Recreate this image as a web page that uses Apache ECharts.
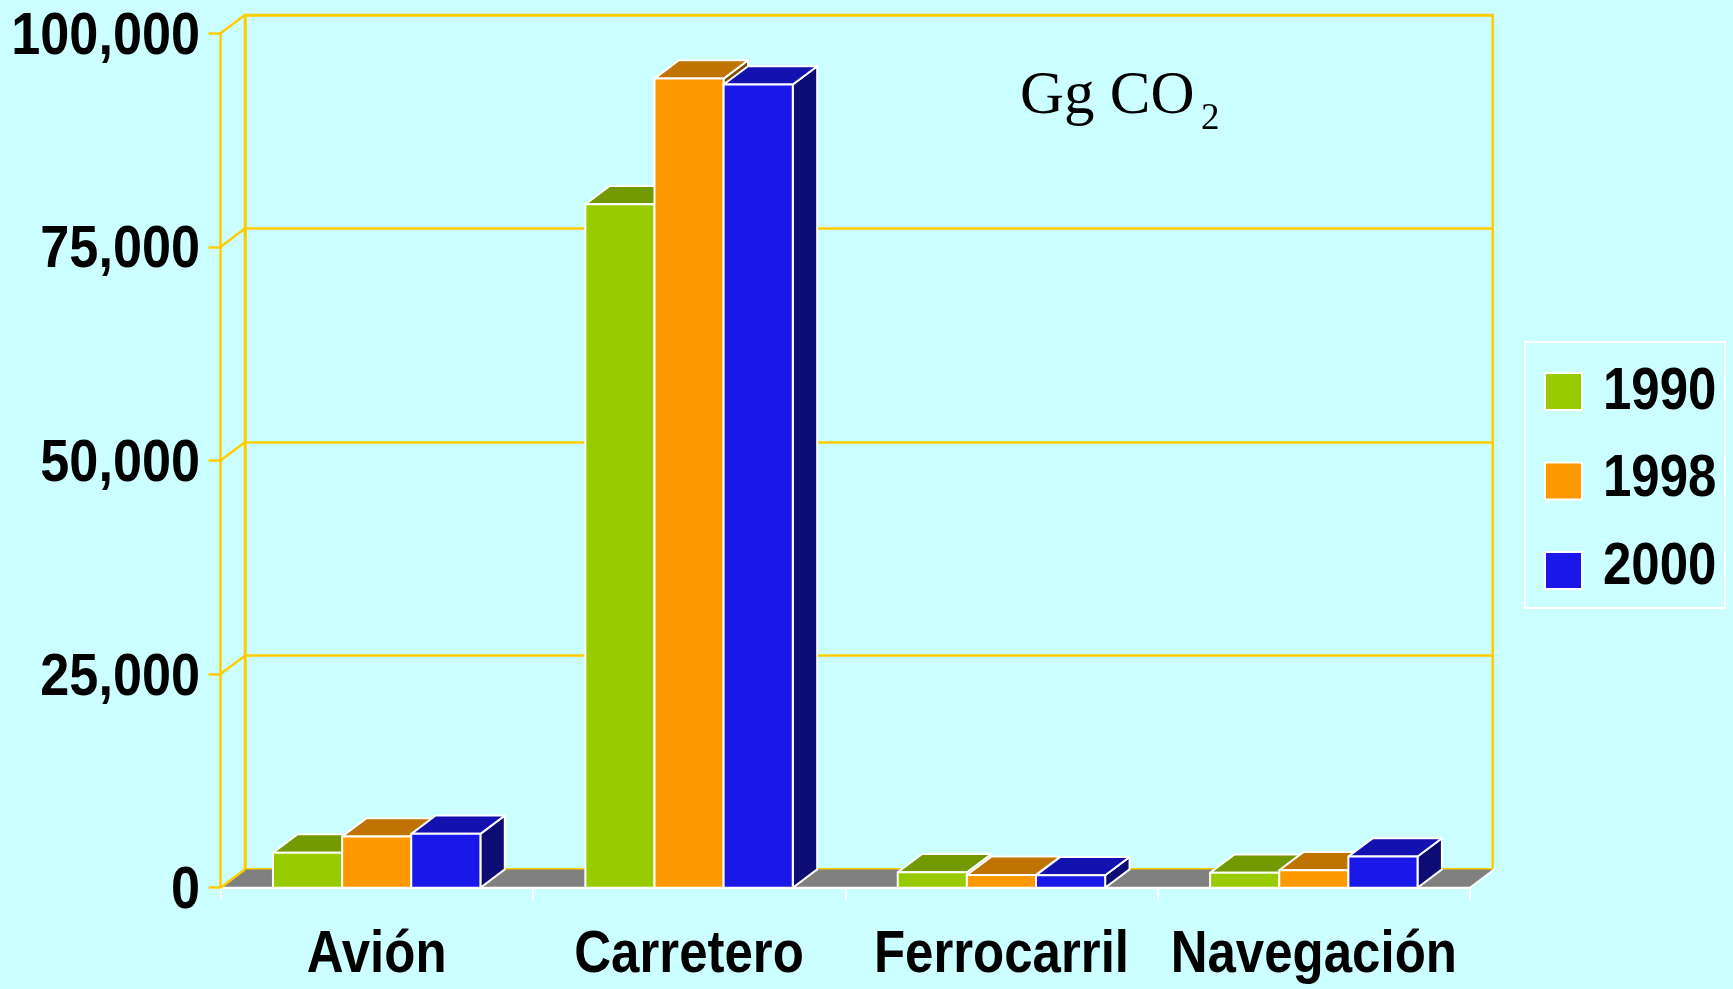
<!DOCTYPE html>
<html>
<head>
<meta charset="utf-8">
<script src="https://cdn.jsdelivr.net/npm/echarts@6/dist/echarts.min.js"></script>
<style>
html,body{margin:0;padding:0;background:#ccffff;}
#chart{width:1733px;height:989px;}
</style>
</head>
<body>
<div id="chart"></div>
<script>
// ---- data ----
const categories = ['Avión', 'Carretero', 'Ferrocarril', 'Navegación'];
const years = ['1990', '1998', '2000'];
const values1990 = [4100, 80000, 1800, 1750];
const values1998 = [6000, 94700, 1500, 2050];
const values2000 = [6300, 94000, 1450, 3650];
const yTicks = [0, 25000, 50000, 75000, 100000];
const yTickLabels = ['0', '25,000', '50,000', '75,000', '100,000'];

// ---- styles ----
const LABEL_FONT = "bold 60px 'Liberation Sans', Arial, sans-serif";
const NARROW_TEXT = 0.85;  // horizontal squeeze to mimic a narrow bold face
const NARROW_NUM = 0.87;
const NARROW_LEG = 0.85;
const YELLOW = '#ffcc00';
const LINE_W = 2.5;
const frontColors = ['#99cc00', '#ff9900', '#1a17e9'];
const topColors = ['#739900', '#bf7300', '#1311af'];
const sideColors = ['#4d6600', '#804c00', '#0d0b74'];
const DX = 24.4, DY = 18.3;
const GAP_RATIO = 0.168;

const seriesValues = [values1990, values1998, values2000];

function makeBarRenderer(s) {
  return function (params, api) {
    const ci = api.value(0);
    const v = api.value(1);
    const band = api.size([1, 0])[0];
    const base = api.coord([ci, 0]);
    const top = api.coord([ci, v]);
    const gap = band * GAP_RATIO;
    const bw = (band - 2 * gap) / 3;
    const x0 = base[0] - band / 2 + gap + s * bw;
    const x1 = x0 + bw;
    const yb = base[1], yt = top[1];
    const stroke = {stroke: '#ffffff', lineWidth: 2, lineJoin: 'round'};
    return {
      type: 'group',
      children: [
        {type: 'polygon', shape: {points: [[x1, yt], [x1 + DX, yt - DY], [x1 + DX, yb - DY], [x1, yb]]},
         style: Object.assign({fill: sideColors[s]}, stroke)},
        {type: 'polygon', shape: {points: [[x0, yt], [x0 + DX, yt - DY], [x1 + DX, yt - DY], [x1, yt]]},
         style: Object.assign({fill: topColors[s]}, stroke)},
        {type: 'rect', shape: {x: x0, y: yt, width: bw, height: yb - yt},
         style: Object.assign({fill: frontColors[s]}, stroke)}
      ]
    };
  };
}

// floor, side-wall diagonals and value labels (one item per y tick)
function renderFrame(params, api) {
  const idx = params.dataIndex;
  const v = api.value(0);
  const band = api.size([1, 0])[0];
  const p = api.coord([0, v]);
  const xl = p[0] - band / 2;
  const children = [];
  if (v === 0) {
    const pr = api.coord([categories.length - 1, 0]);
    const xr = pr[0] + band / 2;
    const y = p[1];
    children.push({type: 'polygon', shape: {points: [[xl, y], [xr, y], [xr + DX, y - DY], [xl + DX, y - DY]]},
      style: {fill: '#808080'}});
    children.push({type: 'line', shape: {x1: xr, y1: y, x2: xr + DX, y2: y - DY},
      style: {stroke: '#ffffff', lineWidth: 2}});
    children.push({type: 'line', shape: {x1: xl, y1: y, x2: xr, y2: y},
      style: {stroke: '#ffffff', lineWidth: 2}});
  }
  children.push({type: 'line', shape: {x1: xl, y1: p[1], x2: xl + DX, y2: p[1] - DY},
    style: {stroke: YELLOW, lineWidth: LINE_W}});
  children.push({type: 'text', x: xl - 20.5, y: p[1] + 4, scaleX: NARROW_NUM,
    style: {text: yTickLabels[idx], font: LABEL_FONT, fill: '#000', align: 'right', verticalAlign: 'middle'}});
  return {type: 'group', children: children};
}

// category labels
function renderCatLabel(params, api) {
  const ci = api.value(0);
  const p = api.coord([ci, 0]);
  return {type: 'text', x: p[0], y: p[1] + 38, scaleX: NARROW_TEXT,
    style: {text: categories[ci], font: LABEL_FONT, fill: '#000', align: 'center', verticalAlign: 'top'}};
}

const barSeries = seriesValues.map(function (vals, s) {
  return {
    name: years[s],
    type: 'custom',
    xAxisIndex: 0, yAxisIndex: 0,
    renderItem: makeBarRenderer(s),
    encode: {x: 0, y: 1},
    data: vals.map(function (v, i) { return [i, v]; }),
    itemStyle: {color: frontColors[s]},
    clip: false,
    z: 5 + s,
    animation: false
  };
});

// legend text drawn squeezed (graphic), legend component keeps icons + frame
const legendTop = 342, legendItemStep = 87.5;
const legendTexts = years.map(function (y, i) {
  return {type: 'text', x: 1603, y: legendTop + 50 + i * legendItemStep, scaleX: NARROW_LEG, z: 20,
    style: {text: y, font: LABEL_FONT, fill: '#000', align: 'left', verticalAlign: 'middle'}};
});

const chart = echarts.init(document.getElementById('chart'), null, {renderer: 'canvas'});
chart.setOption({
  backgroundColor: '#ccffff',
  animation: false,
  grid: [
    {left: 220.5, right: 263, top: 33.3, bottom: 101.3, outerBoundsMode: 'none', containLabel: false},
    {left: 244.9, right: 240.3, top: 15, bottom: 119.7, show: true, borderColor: YELLOW, borderWidth: LINE_W,
     backgroundColor: 'transparent', outerBoundsMode: 'none', containLabel: false}
  ],
  xAxis: [
    {type: 'category', gridIndex: 0, data: categories, boundaryGap: true,
     axisLine: {show: true, lineStyle: {color: '#ffffff', width: 2}},
     axisTick: {show: true, length: 13, lineStyle: {color: '#ffffff', width: 2}},
     axisLabel: {show: false}},
    {type: 'category', gridIndex: 1, data: categories, show: false}
  ],
  yAxis: [
    {type: 'value', gridIndex: 0, min: 0, max: 100000, interval: 25000,
     axisLine: {show: true, lineStyle: {color: YELLOW, width: LINE_W}},
     axisTick: {show: true, length: 12, lineStyle: {color: YELLOW, width: LINE_W}},
     splitLine: {show: false},
     axisLabel: {show: false}},
    {type: 'value', gridIndex: 1, min: 0, max: 100000, interval: 25000,
     axisLine: {show: true, lineStyle: {color: YELLOW, width: LINE_W}},
     axisTick: {show: false}, axisLabel: {show: false},
     splitLine: {show: true, lineStyle: {color: YELLOW, width: LINE_W}}}
  ],
  legend: {
    orient: 'vertical', left: 1525, top: legendTop,
    data: years,
    icon: 'rect', itemWidth: 37, itemHeight: 37, itemGap: 50.5,
    itemStyle: {borderColor: '#ffffff', borderWidth: 2},
    borderColor: '#ffffff', borderWidth: 2, borderRadius: 0,
    padding: [30, 142, 18, 19],
    formatter: function () { return ''; },
    textStyle: {fontSize: 12},
    selectedMode: false
  },
  graphic: [
    {type: 'text', left: 1020, top: 66, z: 10,
     style: {text: 'Gg CO', font: "61px 'Liberation Serif', 'Times New Roman', serif", fill: '#000'}},
    {type: 'text', left: 1201, top: 101, z: 10,
     style: {text: '2', font: "37px 'Liberation Serif', 'Times New Roman', serif", fill: '#000'}}
  ].concat(legendTexts),
  series: [
    {
      name: 'frame', type: 'custom', xAxisIndex: 0, yAxisIndex: 0,
      renderItem: renderFrame, encode: {y: 0},
      data: yTicks.map(function (v) { return [v]; }),
      clip: false, z: 1, silent: true, animation: false
    },
    {
      name: 'categoryLabels', type: 'custom', xAxisIndex: 0, yAxisIndex: 0,
      renderItem: renderCatLabel, encode: {x: 0},
      data: categories.map(function (c, i) { return [i]; }),
      clip: false, z: 10, silent: true, animation: false
    }
  ].concat(barSeries)
});
</script>
</body>
</html>
